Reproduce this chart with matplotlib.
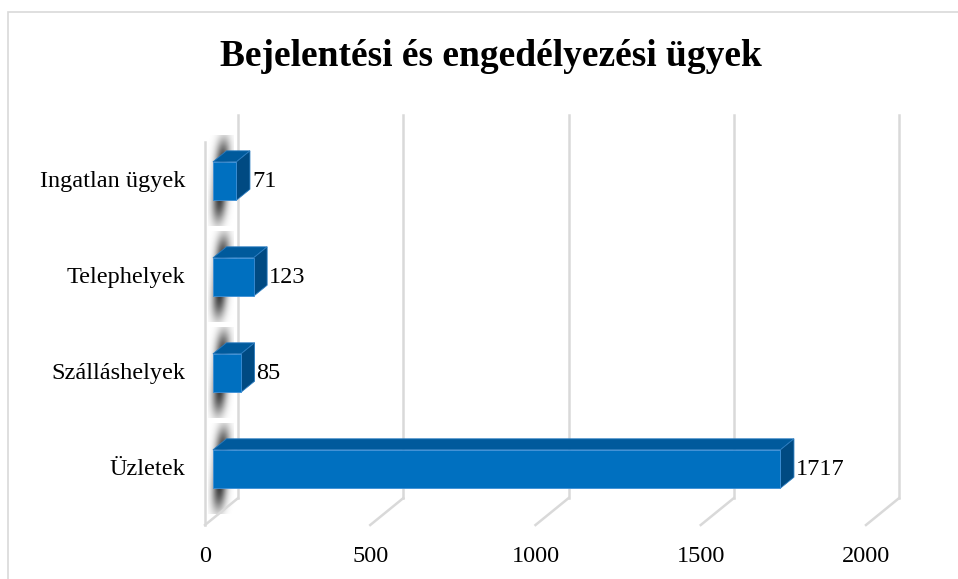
import numpy as np
import matplotlib.pyplot as plt
from matplotlib.patches import Polygon, Rectangle

# adatok
categories = ['Üzletek', 'Szálláshelyek', 'Telephelyek', 'Ingatlan ügyek']
values = [1717, 85, 123, 71]
xticks = [0, 500, 1000, 1500, 2000]
title = 'Bejelentési és engedélyezési ügyek'

# 3D-s megjelenés paraméterei (adategységben)
DX, DY = 100, 0.28        # mélységi eltolás teljes mélységre
ZF, ZB = 0.24, 0.65       # oszlop eleje / hátulja
BAR_H = 0.40
FLOOR, TOP = -0.516, 3.474

FRONT = '#0070c0'
TOPC = '#005a9c'
SIDE = '#004a82'
GRID = '#d9d9d9'
FS = 17.5

plt.rcParams['font.family'] = ['Liberation Serif', 'DejaVu Serif']


def proj(v, c, z):
    return (v + z * DX, c + z * DY)


fig = plt.figure(figsize=(9.58, 5.79), dpi=100)
fig.patches.append(Rectangle((8 / 958, -0.1), 1.1, 1.1 - 12 / 579,
                             transform=fig.transFigure, fill=False,
                             edgecolor=GRID, lw=1.2))

ax = fig.add_axes([205 / 958, (579 - 525) / 579, 661 / 958, 383 / 579])
ax.set_xlim(0, 2000)
ax.set_ylim(FLOOR, TOP)
ax.axis('off')

# hátfal és padló rácsvonalai
for v in xticks:
    x0, y0 = proj(v, FLOOR, 1)
    x1, y1 = proj(v, TOP, 1)
    ax.plot([x0, x1], [y0, y1], color=GRID, lw=1.8, clip_on=False, zorder=2.5)
    xa, ya = proj(v, FLOOR, 0)
    ax.plot([xa, x0], [ya, y0], color=GRID, lw=1.8, clip_on=False, zorder=2.5)
    ax.annotate(str(v), (xa, ya), xytext=(0, -31), textcoords='offset pixels',
                ha='center', va='center', fontsize=FS, annotation_clip=False)

# bal oldalfal eleje
xa, ya = proj(0, FLOOR, 0)
xb, yb = proj(0, TOP, 0)
ax.plot([xa, xb], [ya, yb], color=GRID, lw=1.8, clip_on=False, zorder=2.5)

# árnyékok (elmosott folt)
gx = np.linspace(-1, 1, 80)
gy = np.linspace(-1, 1, 160)
GX, GY = np.meshgrid(gx, gy)
alpha = (0.8 * np.exp(-((GX - 0.25 * GY) * 1.8) ** 2)
         * np.exp(-(np.abs(GY) * 1.12) ** 4))
shadow = np.zeros(GX.shape + (4,))
shadow[..., 3] = alpha

for i, v in enumerate(values):
    cx, cy = proj(0, i, ZF)
    cx += 22
    ax.imshow(shadow, extent=[cx - 38, cx + 38, cy - 0.47, cy + 0.47],
              aspect='auto', origin='lower', zorder=2, clip_on=False,
              interpolation='bilinear')

# oszlopok
for i, v in enumerate(values):
    lo, hi = i - BAR_H / 2, i + BAR_H / 2
    front = [proj(0, lo, ZF), proj(v, lo, ZF), proj(v, hi, ZF), proj(0, hi, ZF)]
    top = [proj(0, hi, ZF), proj(v, hi, ZF), proj(v, hi, ZB), proj(0, hi, ZB)]
    side = [proj(v, lo, ZF), proj(v, hi, ZF), proj(v, hi, ZB), proj(v, lo, ZB)]
    ax.add_patch(Polygon(top, closed=True, fc=TOPC, ec='#2b7cc0', lw=0.6,
                         zorder=3, clip_on=False))
    ax.add_patch(Polygon(side, closed=True, fc=SIDE, ec='#2b7cc0', lw=0.6,
                         zorder=3, clip_on=False))
    ax.add_patch(Polygon(front, closed=True, fc=FRONT, ec='#3d8fd6', lw=0.6,
                         zorder=4, clip_on=False))
    xr = proj(v, i, ZB)[0]
    yc = proj(0, i, ZF)[1]
    ax.annotate(str(v), (xr, yc), xytext=(2, 0), textcoords='offset pixels',
                ha='left', va='center', fontsize=FS, annotation_clip=False)
    ax.annotate(categories[i], (0, yc), xytext=(-20, 0),
                textcoords='offset pixels', ha='right', va='center',
                fontsize=FS, annotation_clip=False)

fig.text(491 / 958, 1 - 57 / 579, title, ha='center', va='center',
         fontsize=27, fontweight='bold')

fig.savefig('out.png', dpi=100)
